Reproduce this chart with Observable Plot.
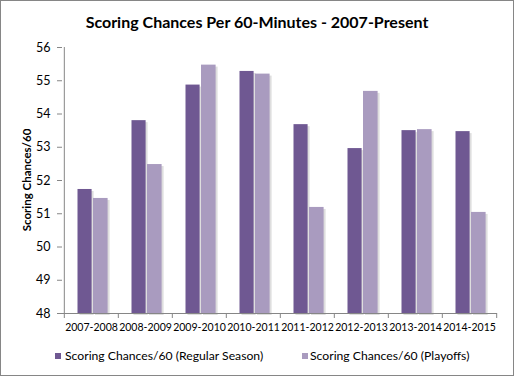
<!DOCTYPE html>
<html>
<head>
<meta charset="utf-8">
<script src="https://cdn.jsdelivr.net/npm/d3@7"></script>
<script src="https://cdn.jsdelivr.net/npm/@observablehq/plot@0.6"></script>
<style>
  html, body { margin: 0; padding: 0; background: #fff; }
  #wrap { position: relative; width: 514px; height: 376px; overflow: hidden; font-family: Lato, "Open Sans", sans-serif; color: #000; }
  #border { position: absolute; left: 0; top: 0; width: 514px; height: 376px; box-sizing: border-box; border: 1px solid #868686; pointer-events: none; }
  #title { position: absolute; left: 0; top: 12px; width: 514px; text-align: center; font-weight: bold; font-size: 16px; line-height: 20px; }
  #ylab { position: absolute; left: 27px; top: 180px; transform: translate(-50%, -50%) rotate(-90deg); font-weight: bold; font-size: 11.5px; white-space: nowrap; line-height: 14px; }
  #chart { position: absolute; left: 0; top: 36px; }
  .leg { position: absolute; top: 348px; font-size: 12.2px; line-height: 15px; white-space: nowrap; }
  .sw { position: absolute; top: 353px; width: 6px; height: 6px; }
</style>
</head>
<body>
<div id="wrap">
  <div id="title">Scoring Chances Per 60-Minutes - 2007-Present</div>
  <div id="chart"></div>
  <div id="ylab">Scoring Chances/60</div>
  <div class="sw" style="left:55px;background:#6F5892"></div>
  <div class="leg" style="left:65px">Scoring Chances/60 (Regular Season)</div>
  <div class="sw" style="left:302px;background:#A99BBF"></div>
  <div class="leg" style="left:310px">Scoring Chances/60 (Playoffs)</div>
  <div id="border"></div>
</div>
<script>
const seasons = ["2007-2008","2008-2009","2009-2010","2010-2011","2011-2012","2012-2013","2013-2014","2014-2015"];
const regular = [51.73, 53.80, 54.87, 55.28, 53.68, 52.96, 53.50, 53.47];
const playoffs = [51.46, 52.48, 55.47, 55.20, 51.19, 54.68, 53.53, 51.04];
const yTicks = [48, 49, 50, 51, 52, 53, 54, 55, 56];

const regColor = "#6F5892";
const poColor = "#A99BBF";

const width = 514, height = 300;
const marginLeft = 62, marginRight = 17, marginTop = 11, marginBottom = 23;
const step = (width - marginLeft - marginRight) / seasons.length;

const regData = seasons.map((s, i) => ({season: s, value: regular[i]}));
const poData = seasons.map((s, i) => ({season: s, value: playoffs[i]}));
const yMin = yTicks[0], yMax = yTicks[yTicks.length - 1];

const regBar = {x: "season", y1: () => yMin, y2: "value", insetLeft: 13.5, insetRight: 26.4};
const poBar = {x: "season", y1: () => yMin, y2: "value", insetLeft: 29, insetRight: 10.4};

const chart = Plot.plot({
  width, height, marginLeft, marginRight, marginTop, marginBottom,
  style: {fontFamily: "Lato, 'Open Sans', sans-serif", color: "#000", background: "transparent"},
  x: {type: "band", domain: seasons, padding: 0, axis: null},
  y: {domain: [yMin, yMax], axis: null},
  marks: [
    // soft shadows
    Plot.barY(regData, {...regBar, fill: "#d0d0d0", dx: 2, dy: 2, fillOpacity: 0.7}),
    Plot.barY(poData, {...poBar, fill: "#d0d0d0", dx: 2, dy: 2, fillOpacity: 0.7}),
    Plot.barY(regData, {...regBar, fill: regColor}),
    Plot.barY(poData, {...poBar, fill: poColor}),
    // y axis
    Plot.axisY({ticks: yTicks, tickSize: 5, tickPadding: 7, fontSize: 12.5, stroke: "#868686", fill: "#000", label: null}),
    Plot.ruleX([seasons[0]], {x: d => d, y1: () => yMin, y2: () => yMax, dx: -step / 2, stroke: "#868686"}),
    // x axis
    Plot.ruleY([yMin], {stroke: "#868686"}),
    Plot.axisX({ticks: seasons, tickSize: 5, tickFormat: () => "", dx: -step / 2, stroke: "#868686", label: null}),
    Plot.axisX({ticks: [seasons[seasons.length - 1]], tickSize: 5, tickFormat: () => "", dx: step / 2, stroke: "#868686", label: null}),
    Plot.axisX({ticks: seasons, tickSize: 0, tickPadding: 10, fontSize: 10.5, fill: "#000", label: null})
  ]
});
document.getElementById("chart").appendChild(chart);
</script>
</body>
</html>
